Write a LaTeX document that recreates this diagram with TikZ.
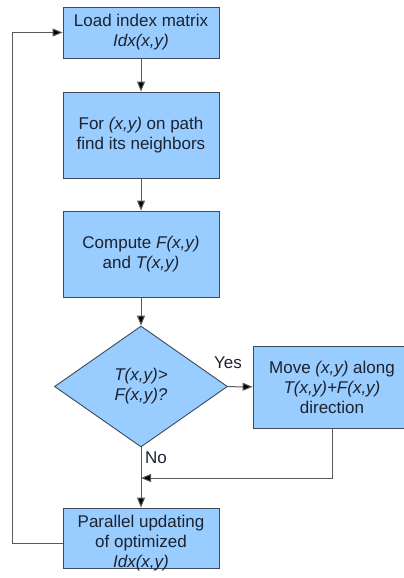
\documentclass[tikz,border=0pt]{standalone}
\usepackage{fontspec}
\setmainfont{Liberation Sans}
\usetikzlibrary{arrows.meta,shapes.geometric}
\definecolor{boxfill}{HTML}{99CCFF}
\definecolor{boxline}{HTML}{3C4A5C}
\definecolor{txt}{HTML}{1B2230}
\definecolor{conn}{HTML}{5A5A5A}
\tikzset{
  every node/.style={text=txt, font=\fontsize{17}{20}\selectfont},
  procbox/.style={draw=boxline, fill=boxfill, line width=0.9pt, inner sep=0pt, align=center, rectangle},
  decbox/.style={draw=boxline, fill=boxfill, line width=0.9pt, inner sep=0pt, align=center, diamond, aspect=1.43},
  conline/.style={draw=conn, line width=1pt},
  arr/.style={conline, -{Triangle[length=10pt,width=8pt,fill=black]}},
}
\begin{document}
\begin{tikzpicture}[x=1pt,y=-1pt]
\useasboundingbox (0,0) rectangle (404,578);
\clip (0,0) rectangle (404,578);
\node[procbox, minimum width=156pt, minimum height=51pt] (b1) at (141,32.5) {Load index matrix\\\textit{Idx(x,y)}};
\node[procbox, minimum width=156pt, minimum height=86pt] (b2) at (141,135) {For \textit{(x,y)} on path\\find its neighbors};
\node[procbox, minimum width=156pt, minimum height=86pt] (b3) at (141,254) {Compute \textit{F(x,y)}\\and \textit{T(x,y)}};
\node[decbox, minimum width=173pt, minimum height=121pt] (d) at (141,386.5) {\textit{T(x,y)>}\\\textit{F(x,y)?}};
\node[procbox, minimum width=158pt, minimum height=82pt] (b4) at (332,387) {Move \textit{(x,y)} along\\\textit{T(x,y)+F(x,y)}\\direction};
\node[procbox, minimum width=156pt, minimum height=60pt] (b5) at (141,538) {};
\node[align=center, inner sep=0pt] (b5t) at (141,543) {Parallel updating\\of optimized\\\textit{Idx(x,y)}};
\coordinate (m) at (141,478);
\coordinate (fl) at (12,543);
\node (yes) at (228,363) {Yes};
\node (no) at (156,458) {No};
\draw[arr] (b1) -- (b2);
\draw[arr] (b2) -- (b3);
\draw[arr] (b3) -- (d);
\draw[arr] (d) -- (b4);
\draw[arr] (d) -- (b5);
\draw[arr] (b4.south) |- (m);
\draw[arr] (b5.west |- fl) -- (fl) |- (b1.west);
\end{tikzpicture}
\end{document}
